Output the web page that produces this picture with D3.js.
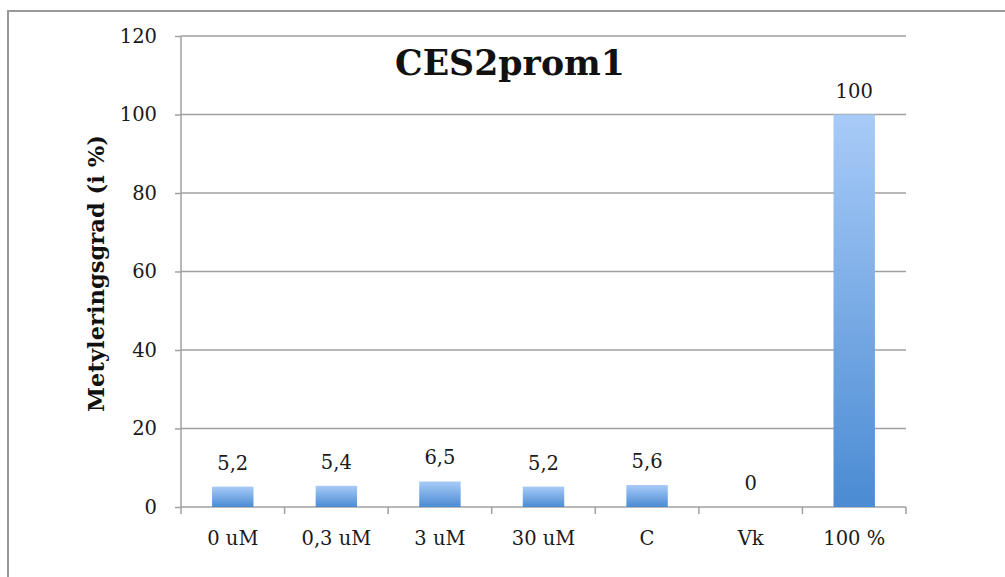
<!DOCTYPE html>
<html><head><meta charset="utf-8">
<script src="https://cdn.jsdelivr.net/npm/d3@7"></script>
<style>body{margin:0;background:#fff}svg{display:block}</style>
</head><body>
<svg id="c" width="1005" height="577"></svg>
<script>
const categories = ["0 uM","0,3 uM","3 uM","30 uM","C","Vk","100 %"];
const values = [5.2,5.4,6.5,5.2,5.6,0,100];
const valueLabels = ["5,2","5,4","6,5","5,2","5,6","0","100"];
const yTicks = [0,20,40,60,80,100,120];
const title = "CES2prom1";
const yTitle = "Metyleringsgrad (i %)";

const svg = d3.select("#c");
const m={left:181,right:906,top:36,bottom:507};
const serif = "'DejaVu Serif', serif";
const fs = 19.5;

// outer border
svg.append("rect").attr("x",8).attr("y",11).attr("width",1100).attr("height",700)
  .attr("fill","none").attr("stroke","#999").attr("stroke-width",2);

const defs = svg.append("defs");
const g = defs.append("linearGradient").attr("id","bg").attr("x1",0).attr("y1",0).attr("x2",0).attr("y2",1);
g.append("stop").attr("offset","0%").attr("stop-color","#a8cbf8");
g.append("stop").attr("offset","100%").attr("stop-color","#4a8bd3");

const x = d3.scaleBand().domain(categories).range([m.left,m.right]).paddingInner(0.6).paddingOuter(0.3);
const y = d3.scaleLinear().domain([0,120]).range([m.bottom,m.top]);

// gridlines
svg.append("g").selectAll("line").data(yTicks.filter(d=>d>0)).join("line")
  .attr("x1",m.left).attr("x2",m.right).attr("y1",d=>y(d)).attr("y2",d=>y(d))
  .attr("stroke","#a0a0a0").attr("stroke-width",1.5);

// y axis
const ya = svg.append("g").attr("transform",`translate(${m.left},0)`)
  .call(d3.axisLeft(y).tickValues(yTicks).tickSize(6).tickPadding(18).tickFormat(d3.format("d")));
ya.select(".domain").attr("stroke","#a0a0a0").attr("stroke-width",1.5).attr("d",`M0,${m.top}V${m.bottom}`);
ya.selectAll(".tick line").attr("stroke","#a0a0a0").attr("stroke-width",1.5);
ya.selectAll(".tick text").attr("font-family",serif).attr("font-size",fs).attr("fill","#1a1a1a");

// x axis
const xa = svg.append("g").attr("transform",`translate(0,${m.bottom})`)
  .call(d3.axisBottom(x).tickSize(0).tickPadding(24));
xa.select(".domain").attr("stroke","#a0a0a0").attr("stroke-width",1.5).attr("d",`M${m.left},0H${m.right}`);
xa.selectAll(".tick text").attr("font-family",serif).attr("font-size",fs).attr("fill","#1a1a1a");
const bounds = d3.range(categories.length+1).map(i=>m.left + i*(m.right-m.left)/categories.length);
xa.append("g").selectAll("line").data(bounds).join("line")
  .attr("x1",d=>d).attr("x2",d=>d).attr("y1",0).attr("y2",7)
  .attr("stroke","#a0a0a0").attr("stroke-width",1.5);

// bars
svg.append("g").selectAll("rect").data(values).join("rect")
  .attr("x",(d,i)=>x(categories[i])).attr("width",x.bandwidth())
  .attr("y",d=>y(d)).attr("height",d=>y(0)-y(d))
  .attr("fill","url(#bg)");

// value labels
svg.append("g").selectAll("text").data(values).join("text")
  .attr("x",(d,i)=>x(categories[i])+x.bandwidth()/2)
  .attr("y",d=>y(d)-17)
  .attr("text-anchor","middle").attr("font-family",serif).attr("font-size",fs).attr("fill","#1a1a1a")
  .text((d,i)=>valueLabels[i]);

// title
const t = svg.append("text").attr("x",510).attr("y",75).attr("text-anchor","middle")
  .attr("font-family",serif).attr("font-weight","bold").attr("font-size",34).attr("fill","#111").text(title);
const tw = t.node().getComputedTextLength(); t.attr("font-size",34*230/tw);

// y title
const yt = svg.append("text").attr("transform",`translate(104,${(m.top+m.bottom)/2+2}) rotate(-90)`)
  .attr("text-anchor","middle").attr("font-family",serif).attr("font-weight","bold").attr("font-size",20)
  .attr("fill","#111").text(yTitle);
const yw = yt.node().getComputedTextLength(); yt.attr("font-size",20*277/yw);
</script>
</body></html>
